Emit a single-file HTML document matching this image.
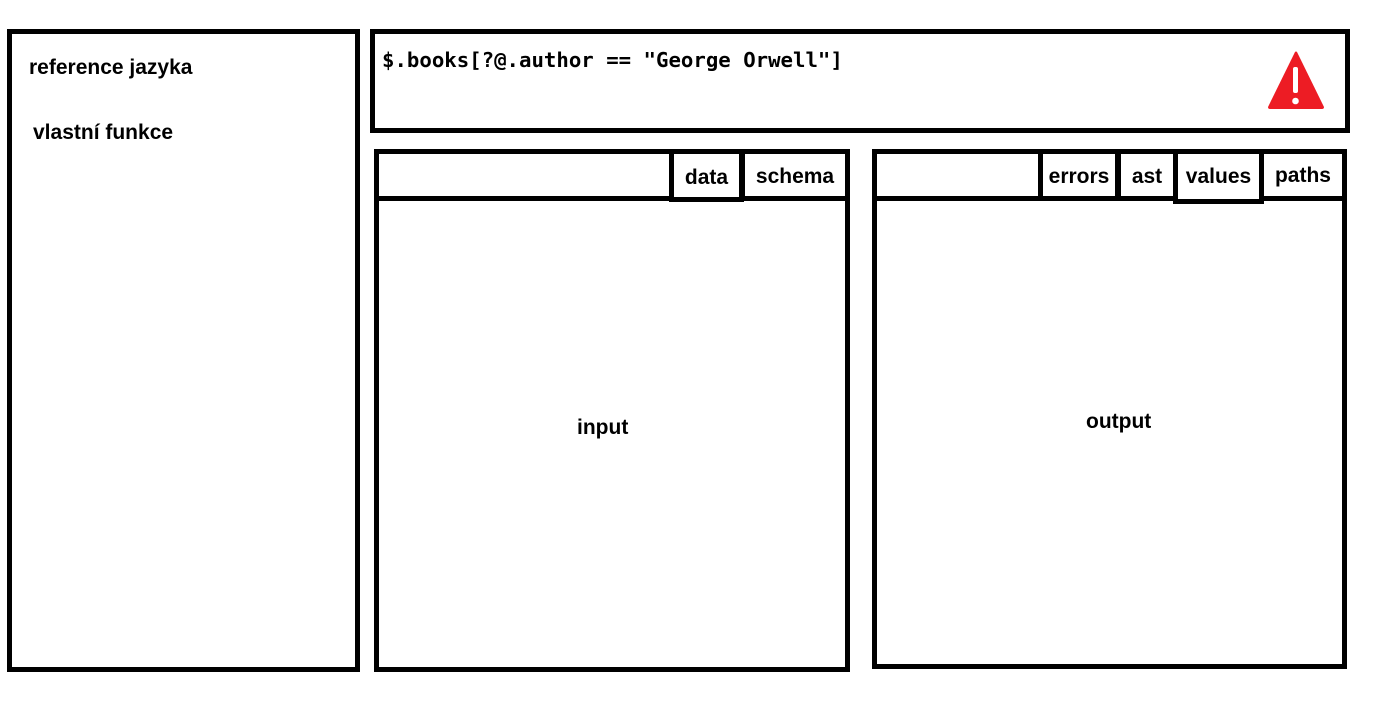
<!DOCTYPE html>
<html><head><style>
body{margin:0;width:1389px;height:708px;background:#fff;position:relative;overflow:hidden;font-family:"Liberation Sans",Arial,sans-serif;font-weight:bold;}
.b{position:absolute;border:5px solid #000;box-sizing:border-box;background:#fff;}
.t{position:absolute;font-size:21px;color:#000;white-space:nowrap;}
.tab{position:absolute;border:5px solid #000;box-sizing:border-box;background:#fff;display:flex;align-items:center;justify-content:center;font-size:21px;padding-top:4px;}
</style></head><body>
<div class="b" style="left:7px;top:29px;width:353px;height:643px"></div>
<div class="t" style="left:29px;top:56px">reference jazyka</div>
<div class="t" style="left:33px;top:121px">vlastní funkce</div>

<div class="b" style="left:370px;top:29px;width:980px;height:104px"></div>
<div class="t" style="left:382px;top:48px;font-family:'DejaVu Sans Mono','Liberation Mono',monospace;font-size:20.7px">$.books[?@.author == "George Orwell"]</div>
<svg style="position:absolute;left:1265px;top:50px" width="62" height="62" viewBox="0 0 62 62">
<path d="M30 2 Q31 1 32 2 L59 57 Q59 59 57 59 L5 59 Q3 59 3 57 Z" fill="#ed1c24"/>
<rect x="28" y="17" width="5" height="26" rx="2" fill="#fff"/>
<circle cx="30.5" cy="51" r="3.3" fill="#fff"/>
</svg>

<div class="b" style="left:374px;top:149px;width:476px;height:523px"></div>
<div style="position:absolute;left:374px;top:196px;width:476px;height:5px;background:#000"></div>
<div class="tab" style="left:669px;top:149px;width:75px;height:53px">data</div>
<div class="tab" style="left:740px;top:149px;width:110px;height:52px">schema</div>
<div class="t" style="left:577px;top:416px">input</div>

<div class="b" style="left:872px;top:149px;width:475px;height:520px"></div>
<div style="position:absolute;left:872px;top:196px;width:475px;height:5px;background:#000"></div>
<div class="tab" style="left:1038px;top:149px;width:82px;height:52px">errors</div>
<div class="tab" style="left:1116px;top:149px;width:62px;height:52px">ast</div>
<div class="tab" style="left:1173px;top:149px;width:91px;height:55px;padding-top:0">values</div>
<div class="tab" style="left:1259px;top:149px;width:88px;height:52px;padding-top:1px">paths</div>
<div class="t" style="left:1086px;top:410px">output</div>
</body></html>
